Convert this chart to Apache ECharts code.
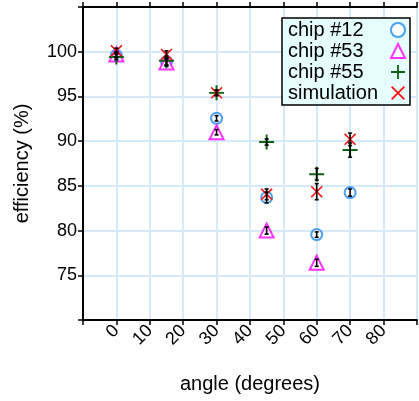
<!DOCTYPE html>
<html>
<head>
<meta charset="utf-8">
<script src="https://cdn.jsdelivr.net/npm/echarts@6/dist/echarts.min.js"></script>
<style>
  html, body { margin: 0; padding: 0; background: #fff; }
  #chart { width: 419px; height: 401px; }
</style>
</head>
<body>
<div id="chart"></div>
<script>
// angles measured (degrees)
const angles = [0, 15, 30, 45, 60, 70]

// efficiency (%) per chip, with error half-widths
const chip12 = [99.6, 98.9, 92.55, 83.7, 79.55, 84.25]
const chip12Err = [0.3, 0.4, 0.3, 0.6, 0.3, 0.4]
const chip53 = [99.7, 98.8, 91.0, 80.0, 76.4, null]
const chip53Err = [0.3, 0.4, 0.3, 0.4, 0.4, null]
const chip55 = [99.4, 99.0, 95.4, 89.9, 86.3, 89.0]
const chip55Err = [0.3, 0.5, 0.3, 0.35, 0.65, 0.8]
const simulation = [100.1, 99.7, 95.4, 84.05, 84.35, 90.2]
const simulationErr = [0.3, 0.4, 0.3, 0.6, 0.9, 0.7]

const xTicks = [0, 10, 20, 30, 40, 50, 60, 70, 80]
const yTicks = [75, 80, 85, 90, 95, 100]

const FONT = '"Liberation Sans", Arial, Helvetica, sans-serif'
const GRID_COLOR = '#d6e9fb'

const plusPath = 'path://M8.7,0 L11.3,0 L11.3,8.7 L20,8.7 L20,11.3 L11.3,11.3 L11.3,20 L8.7,20 L8.7,11.3 L0,11.3 L0,8.7 L8.7,8.7 Z'
const crossPath = 'path://M1.8,0 L10,8.2 L18.2,0 L20,1.8 L11.8,10 L20,18.2 L18.2,20 L10,11.8 L1.8,20 L0,18.2 L8.2,10 L0,1.8 Z'

const toPoints = (vals) => angles.map((a, i) => (vals[i] == null ? null : [a, vals[i]])).filter(Boolean)
const toErr = (vals, errs) => angles.map((a, i) => (vals[i] == null ? null : [a, vals[i], errs[i]])).filter(Boolean)

// error bar drawn through the axis scales
const errorSeries = (vals, errs) => ({
  type: 'custom',
  z: 5,
  silent: true,
  data: toErr(vals, errs),
  renderItem: (params, api) => {
    const x = api.value(0)
    const y = api.value(1)
    const e = api.value(2)
    const hi = api.coord([x, y + e])
    const lo = api.coord([x, y - e])
    const style = { stroke: '#000', lineWidth: 1.6 }
    return {
      type: 'group',
      children: [
        { type: 'line', shape: { x1: hi[0], y1: hi[1], x2: lo[0], y2: lo[1] }, style },
        { type: 'line', shape: { x1: hi[0] - 2, y1: hi[1], x2: hi[0] + 2, y2: hi[1] }, style },
        { type: 'line', shape: { x1: lo[0] - 2, y1: lo[1], x2: lo[0] + 2, y2: lo[1] }, style }
      ]
    }
  }
})

const chart = echarts.init(document.getElementById('chart'))

const option = {
  animation: false,
  textStyle: { fontFamily: FONT },
  grid: { left: 83, right: -4, top: 7, bottom: 81, containLabel: false },
  legend: {
    data: ['chip #12', 'chip #53', 'chip #55', 'simulation'],
    orient: 'vertical',
    align: 'right',
    left: 282,
    top: 18,
    padding: [2, 4, 2, 6],
    itemGap: 1,
    itemWidth: 14,
    itemHeight: 14,
    backgroundColor: '#e6fdfd',
    borderColor: '#000',
    borderWidth: 1.5,
    borderRadius: 0,
    selectedMode: false,
    formatter: (name) => `{t|${name}}`,
    textStyle: {
      color: '#000',
      fontSize: 20,
      fontFamily: FONT,
      lineHeight: 20,
      rich: {
        t: { width: 98, align: 'left', fontSize: 20, lineHeight: 20, fontFamily: FONT, color: '#000' }
      }
    }
  },
  xAxis: [
    {
      type: 'value',
      min: -10,
      max: 90,
      interval: 10,
      name: 'angle (degrees)',
      nameLocation: 'middle',
      nameGap: 54,
      nameTextStyle: { color: '#000', fontSize: 20, fontFamily: FONT },
      axisLine: { show: true, onZero: false, lineStyle: { color: '#000', width: 2 } },
      axisTick: { show: true, length: 5, lineStyle: { color: '#000', width: 1.5 } },
      axisLabel: {
        rotate: 45,
        margin: 8,
        color: '#000',
        fontSize: 18,
        fontFamily: FONT,
        formatter: (v) => (xTicks.includes(v) ? String(v) : '')
      },
      splitLine: { show: true, lineStyle: { color: GRID_COLOR, width: 2 } }
    },
    {
      type: 'value',
      position: 'top',
      min: -10,
      max: 90,
      interval: 10,
      axisLine: { show: true, onZero: false, lineStyle: { color: '#000', width: 2 } },
      axisTick: { show: true, length: 5, lineStyle: { color: '#000', width: 1.5 } },
      axisLabel: { show: false },
      splitLine: { show: false }
    }
  ],
  yAxis: {
    type: 'value',
    min: 70,
    max: 105,
    interval: 5,
    name: 'efficiency (%)',
    nameLocation: 'middle',
    nameGap: 51,
    nameTextStyle: { color: '#000', fontSize: 20, fontFamily: FONT },
    axisLine: { show: true, onZero: false, lineStyle: { color: '#000', width: 2 } },
    axisTick: { show: true, length: 5, lineStyle: { color: '#000', width: 1.5 } },
    axisLabel: {
      margin: 6,
      color: '#000',
      fontSize: 18,
      fontFamily: FONT,
      formatter: (v) => (yTicks.includes(v) ? String(v) : '')
    },
    splitLine: { show: true, lineStyle: { color: GRID_COLOR, width: 2 } }
  },
  series: [
    {
      name: 'chip #12',
      type: 'scatter',
      symbol: 'emptyCircle',
      symbolSize: 11,
      z: 3,
      data: toPoints(chip12),
      itemStyle: { color: '#1e88f0', borderColor: '#1e88f0', borderWidth: 2 }
    },
    {
      name: 'chip #53',
      type: 'scatter',
      symbol: 'emptyTriangle',
      symbolSize: 14,
      z: 3,
      data: toPoints(chip53),
      itemStyle: { color: '#ff00ff', borderColor: '#ff00ff', borderWidth: 2 }
    },
    {
      name: 'chip #55',
      type: 'scatter',
      symbol: plusPath,
      symbolSize: 15,
      z: 3,
      data: toPoints(chip55),
      itemStyle: { color: '#0f6212', opacity: 1 }
    },
    {
      name: 'simulation',
      type: 'scatter',
      symbol: crossPath,
      symbolSize: 12,
      z: 4,
      data: toPoints(simulation),
      itemStyle: { color: '#ff1010', opacity: 1 }
    },
    errorSeries(chip12, chip12Err),
    errorSeries(chip53, chip53Err),
    errorSeries(chip55, chip55Err),
    errorSeries(simulation, simulationErr)
  ]
}

chart.setOption(option)
</script>
</body>
</html>
